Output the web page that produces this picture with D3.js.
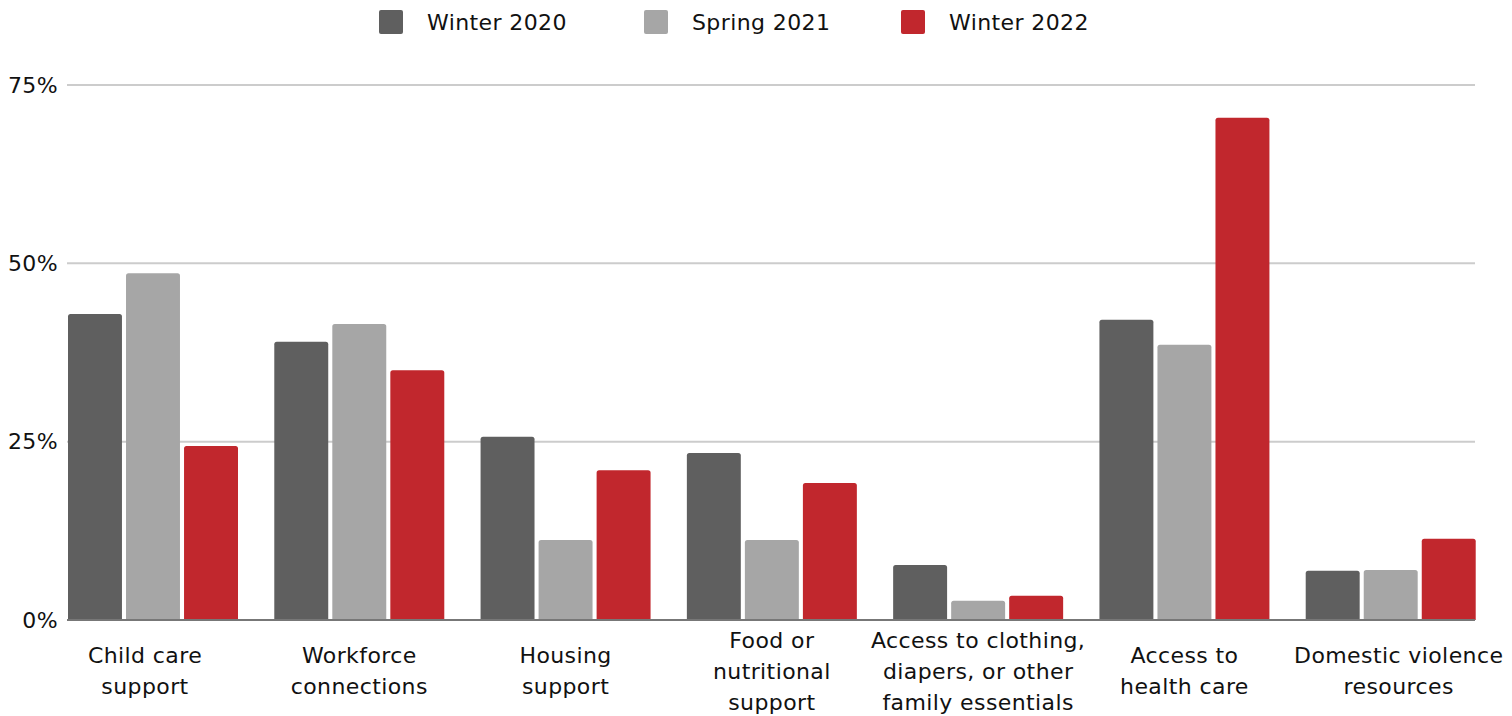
<!DOCTYPE html>
<html>
<head>
<meta charset="utf-8">
<script src="https://cdn.jsdelivr.net/npm/d3@7"></script>
<style>
  body { margin: 0; background: #fff; }
  svg text { font-family: "DejaVu Sans", sans-serif; fill: #111; letter-spacing: 0.4px; }
</style>
</head>
<body>
<svg id="chart" width="1512" height="716"></svg>
<script>
const categories = [
    ["Child care", "support"],
    ["Workforce", "connections"],
    ["Housing", "support"],
    ["Food or", "nutritional", "support"],
    ["Access to clothing,", "diapers, or other", "family essentials"],
    ["Access to", "health care"],
    ["Domestic violence", "resources"]
];
const seriesNames = ["Winter 2020", "Spring 2021", "Winter 2022"];
const winter2020 = [42.9, 39.0, 25.7, 23.4, 7.7, 42.1, 6.9];
const spring2021 = [48.6, 41.5, 11.2, 11.2, 2.7, 38.6, 7.0];
const winter2022 = [24.4, 35.0, 21.0, 19.2, 3.4, 70.4, 11.4];
const yTicks = [0, 25, 50, 75];

const colors = ["#5f5f5f", "#a6a6a6", "#c1272d"];
const values = [winter2020, spring2021, winter2022];

const svg = d3.select("#chart");
const left = 68, right = 1475, bottom = 620;

const y = d3.scaleLinear()
    .domain([0, 75])
    .range([bottom, 85]);

const x0 = d3.scaleBand()
    .domain(d3.range(categories.length))
    .range([left, 1512]);

const x1 = d3.scaleBand()
    .domain(d3.range(seriesNames.length))
    .range([0, 170])
    .paddingInner(0.07);

// grid lines
svg.append("g")
    .selectAll("line")
    .data(yTicks.filter(d => d > 0))
    .enter()
    .append("line")
    .attr("x1", left - 1)
    .attr("x2", right)
    .attr("y1", d => y(d))
    .attr("y2", d => y(d))
    .attr("stroke", "#cccccc")
    .attr("stroke-width", 2);

// tick labels
svg.append("g")
    .selectAll("text")
    .data(yTicks)
    .enter()
    .append("text")
    .attr("x", 58)
    .attr("y", d => y(d))
    .attr("dy", "0.35em")
    .attr("text-anchor", "end")
    .style("font-size", "22px")
    .text(d => d + "%");

// bars
const groups = svg.append("g")
    .selectAll("g")
    .data(categories)
    .enter()
    .append("g")
    .attr("transform", (d, i) => `translate(${x0(i)},0)`);

groups.selectAll("path")
    .data((d, i) => values.map((s, j) => ({ series: j, value: s[i] })))
    .enter()
    .append("path")
    .attr("fill", d => colors[d.series])
    .attr("d", d => {
        const bx = x1(d.series), bw = x1.bandwidth();
        const top = y(d.value), r = 2.5;
        return `M${bx},${bottom}V${top + r}Q${bx},${top} ${bx + r},${top}H${bx + bw - r}Q${bx + bw},${top} ${bx + bw},${top + r}V${bottom}Z`;
    });

// baseline
svg.append("line")
    .attr("x1", left - 1)
    .attr("x2", right)
    .attr("y1", bottom)
    .attr("y2", bottom)
    .attr("stroke", "#777777")
    .attr("stroke-width", 2);

// category labels (first and last sit slightly off-centre in the original)
const labelShift = [-8, 0, 0, 0, 0, 0, 8];
groups.append("text")
    .attr("text-anchor", "middle")
    .style("font-size", "22px")
    .each(function (d, i) {
        const t = d3.select(this);
        const startY = d.length === 3 ? 648 : 663;
        d.forEach((line, k) => {
            t.append("tspan")
                .attr("x", 85 + labelShift[i])
                .attr("y", startY + k * 31)
                .text(line);
        });
    });

// legend
const legendX = [379, 644, 901];
const legend = svg.append("g")
    .selectAll("g")
    .data(seriesNames)
    .enter()
    .append("g")
    .attr("transform", (d, i) => `translate(${legendX[i]},10)`);

legend.append("rect")
    .attr("width", 24)
    .attr("height", 24)
    .attr("rx", 2)
    .attr("fill", (d, i) => colors[i]);

legend.append("text")
    .attr("x", 48)
    .attr("y", 20)
    .style("font-size", "22px")
    .text(d => d);
</script>
</body>
</html>
